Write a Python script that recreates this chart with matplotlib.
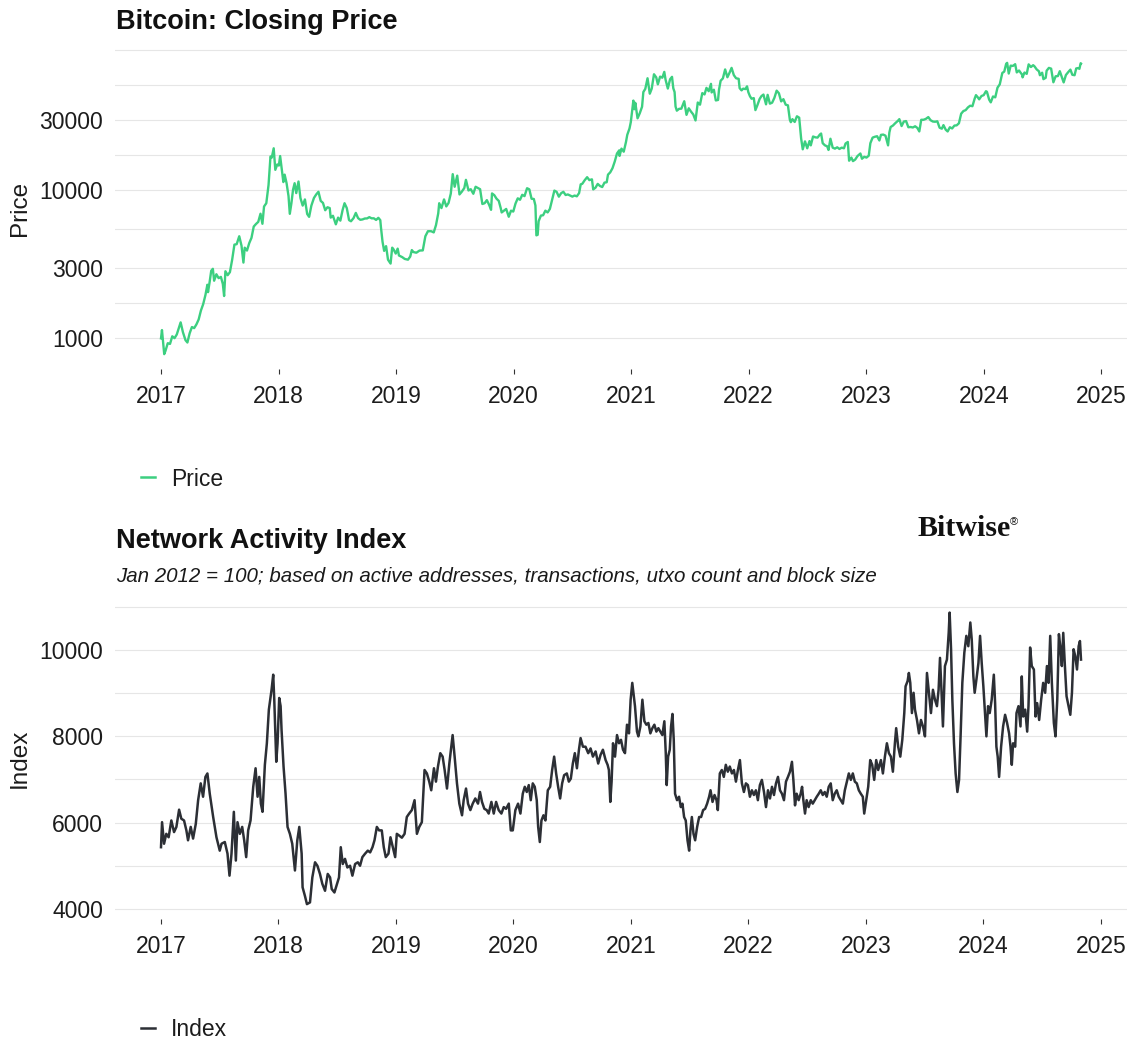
import numpy as np
import pandas as pd
import matplotlib
matplotlib.use("Agg")
import matplotlib.pyplot as plt
from matplotlib.lines import Line2D

plt.rcParams['font.family'] = ['Liberation Sans', 'DejaVu Sans']

# ---------------- data ----------------
price_dates = [
 "2017-01-01","2017-01-04","2017-01-08","2017-01-11","2017-01-15","2017-01-22","2017-01-29","2017-02-05","2017-02-12","2017-02-19",
 "2017-02-26","2017-03-03","2017-03-10","2017-03-18","2017-03-24","2017-03-31","2017-04-07","2017-04-14","2017-04-21","2017-04-28",
 "2017-05-05","2017-05-12","2017-05-19","2017-05-25","2017-05-27","2017-06-01","2017-06-06","2017-06-11","2017-06-15","2017-06-22",
 "2017-06-29","2017-07-06","2017-07-12","2017-07-16","2017-07-20","2017-07-27","2017-08-03","2017-08-10","2017-08-17","2017-08-24",
 "2017-09-01","2017-09-08","2017-09-14","2017-09-18","2017-09-25","2017-10-02","2017-10-09","2017-10-16","2017-10-23","2017-10-30",
 "2017-11-06","2017-11-12","2017-11-17","2017-11-24","2017-12-01","2017-12-07","2017-12-11","2017-12-17","2017-12-22","2017-12-28",
 "2018-01-02","2018-01-06","2018-01-10","2018-01-16","2018-01-20","2018-01-26","2018-02-01","2018-02-05","2018-02-10","2018-02-15",
 "2018-02-20","2018-02-25","2018-03-04","2018-03-10","2018-03-17","2018-03-24","2018-03-31","2018-04-06","2018-04-13","2018-04-21",
 "2018-04-28","2018-05-05","2018-05-12","2018-05-19","2018-05-26","2018-06-02","2018-06-09","2018-06-12","2018-06-19","2018-06-28",
 "2018-07-05","2018-07-12","2018-07-19","2018-07-25","2018-08-01","2018-08-08","2018-08-14","2018-08-22","2018-08-29","2018-09-05",
 "2018-09-12","2018-09-19","2018-09-26","2018-10-03","2018-10-10","2018-10-17","2018-10-24","2018-10-31","2018-11-07","2018-11-13",
 "2018-11-15","2018-11-20","2018-11-25","2018-12-01","2018-12-07","2018-12-15","2018-12-20","2018-12-24","2018-12-31",
 "2019-01-06","2019-01-10","2019-01-20","2019-01-28","2019-02-07","2019-02-14","2019-02-19","2019-02-24","2019-03-05","2019-03-15",
 "2019-03-25","2019-04-02","2019-04-10","2019-04-20","2019-04-28","2019-05-05","2019-05-12","2019-05-15","2019-05-22","2019-05-30",
 "2019-06-06","2019-06-13","2019-06-20","2019-06-26","2019-07-02","2019-07-10","2019-07-17","2019-07-24","2019-08-01","2019-08-06",
 "2019-08-14","2019-08-21","2019-08-29","2019-09-05","2019-09-12","2019-09-19","2019-09-26","2019-10-03","2019-10-10","2019-10-17",
 "2019-10-23","2019-10-26","2019-11-02","2019-11-09","2019-11-16","2019-11-22","2019-11-25","2019-12-02","2019-12-09","2019-12-17",
 "2019-12-24","2019-12-31",
 "2020-01-07","2020-01-14","2020-01-21","2020-01-28","2020-02-04","2020-02-12","2020-02-19","2020-02-26","2020-03-04","2020-03-09",
 "2020-03-12","2020-03-16","2020-03-19","2020-03-26","2020-04-02","2020-04-09","2020-04-16","2020-04-23","2020-04-30","2020-05-07",
 "2020-05-14","2020-05-21","2020-05-28","2020-06-04","2020-06-11","2020-06-18","2020-06-25","2020-07-02","2020-07-09","2020-07-16",
 "2020-07-23","2020-07-28","2020-08-02","2020-08-09","2020-08-17","2020-08-24","2020-09-01","2020-09-05","2020-09-12","2020-09-19",
 "2020-09-26","2020-10-03","2020-10-10","2020-10-17","2020-10-21","2020-10-28","2020-11-04","2020-11-11","2020-11-18","2020-11-25",
 "2020-11-26","2020-12-02","2020-12-09","2020-12-16","2020-12-20","2020-12-27","2020-12-31",
 "2021-01-03","2021-01-08","2021-01-11","2021-01-14","2021-01-21","2021-01-28","2021-02-04","2021-02-08","2021-02-14","2021-02-21",
 "2021-02-28","2021-03-06","2021-03-13","2021-03-20","2021-03-25","2021-04-01","2021-04-08","2021-04-14","2021-04-18","2021-04-25",
 "2021-05-02","2021-05-08","2021-05-12","2021-05-16","2021-05-19","2021-05-23","2021-05-30","2021-06-06","2021-06-13","2021-06-15",
 "2021-06-22","2021-06-29","2021-07-06","2021-07-13","2021-07-20","2021-07-27","2021-08-03","2021-08-10","2021-08-17","2021-08-23",
 "2021-08-30","2021-09-06","2021-09-08","2021-09-15","2021-09-21","2021-09-28","2021-10-01","2021-10-06","2021-10-13","2021-10-20",
 "2021-10-27","2021-11-03","2021-11-09","2021-11-16","2021-11-23","2021-11-28","2021-12-01","2021-12-04","2021-12-10","2021-12-15",
 "2021-12-22","2021-12-27","2021-12-31",
 "2022-01-05","2022-01-10","2022-01-17","2022-01-22","2022-01-28","2022-02-04","2022-02-10","2022-02-16","2022-02-24","2022-03-01",
 "2022-03-08","2022-03-15","2022-03-22","2022-03-29","2022-04-05","2022-04-12","2022-04-19","2022-04-26","2022-05-03","2022-05-09",
 "2022-05-12","2022-05-17","2022-05-24","2022-05-31","2022-06-07","2022-06-13","2022-06-18","2022-06-25","2022-07-02","2022-07-09",
 "2022-07-13","2022-07-20","2022-07-27","2022-08-03","2022-08-10","2022-08-14","2022-08-19","2022-08-26","2022-09-02","2022-09-06",
 "2022-09-12","2022-09-19","2022-09-26","2022-10-03","2022-10-10","2022-10-17","2022-10-24","2022-10-29","2022-11-05","2022-11-09",
 "2022-11-16","2022-11-21","2022-11-28","2022-12-05","2022-12-14","2022-12-19","2022-12-26",
 "2023-01-02","2023-01-09","2023-01-14","2023-01-21","2023-01-28","2023-02-04","2023-02-11","2023-02-16","2023-02-23","2023-03-02",
 "2023-03-10","2023-03-14","2023-03-18","2023-03-25","2023-04-01","2023-04-10","2023-04-14","2023-04-21","2023-04-28","2023-05-05",
 "2023-05-12","2023-05-19","2023-05-26","2023-06-02","2023-06-09","2023-06-15","2023-06-21","2023-06-28","2023-07-05","2023-07-13",
 "2023-07-20","2023-07-27","2023-08-03","2023-08-10","2023-08-17","2023-08-24","2023-08-29","2023-09-05","2023-09-11","2023-09-18",
 "2023-09-25","2023-10-02","2023-10-09","2023-10-16","2023-10-23","2023-10-30","2023-11-06","2023-11-13","2023-11-20","2023-11-27",
 "2023-12-04","2023-12-08","2023-12-13","2023-12-18","2023-12-25",
 "2024-01-01","2024-01-08","2024-01-11","2024-01-18","2024-01-23","2024-01-30","2024-02-06","2024-02-13","2024-02-20","2024-02-28",
 "2024-03-05","2024-03-11","2024-03-14","2024-03-19","2024-03-25","2024-04-01","2024-04-08","2024-04-13","2024-04-20","2024-04-30",
 "2024-05-01","2024-05-07","2024-05-14","2024-05-20","2024-05-27","2024-06-03","2024-06-07","2024-06-14","2024-06-21","2024-06-24",
 "2024-07-01","2024-07-05","2024-07-12","2024-07-15","2024-07-22","2024-07-29","2024-08-05","2024-08-12","2024-08-19","2024-08-25",
 "2024-08-31","2024-09-06","2024-09-13","2024-09-20","2024-09-27","2024-10-03","2024-10-10","2024-10-15","2024-10-21","2024-10-25",
 "2024-10-29","2024-10-30",
]
price_values = [
 998,1135,910,780,822,925,915,1030,1000,1060,
 1180,1280,1100,970,935,1080,1190,1170,1240,1340,
 1540,1700,1960,2300,2050,2400,2860,2950,2450,2710,
 2550,2600,2330,1930,2840,2670,2800,3400,4300,4330,
 4900,4230,3250,4100,3920,4400,4780,5700,5930,6130,
 6960,5950,7790,8200,10900,17000,16700,19300,13800,15000,
 14750,17100,14600,11400,12800,11200,9170,6950,8200,10100,
 11200,9600,11500,8900,7900,8700,6930,6630,7900,8900,
 9400,9800,8500,8240,7350,7700,7600,6550,6740,5900,
 6550,6250,7380,8200,7600,6300,6190,6500,7050,6500,
 6330,6370,6460,6470,6600,6480,6480,6320,6530,6300,
 5650,4500,3900,4200,3400,3200,4100,4000,3740,
 4040,3630,3540,3440,3400,3570,3950,3830,3790,3920,
 3930,4900,5300,5300,5200,5830,7000,8200,7600,8700,
 7800,8230,9530,12900,10600,12600,9400,9800,10400,11800,
 10000,10200,9500,10600,10400,10200,8100,8200,8600,8000,
 7400,9550,9300,8800,8500,7600,7100,7300,7500,6640,
 7300,7200,
 8160,8850,8650,9350,9160,10360,10180,8790,8760,7910,
 4970,5010,6190,6760,6800,7300,7100,7500,8650,9980,
 9790,9080,9580,9800,9320,9400,9250,9090,9240,9130,
 9600,11000,11100,11700,12300,11750,11900,10170,10440,11080,
 10730,10550,11300,11370,12800,13270,14150,15700,17800,18700,
 17150,19200,18300,21300,23800,26300,29000,
 32800,40600,35500,39200,30800,33400,36900,46400,48700,57500,
 45200,48900,61200,58300,52300,59000,58000,63500,56200,49000,
 56600,58800,49200,46400,37000,34700,35700,35800,39100,40200,
 32500,36000,34200,32700,29800,39400,38100,45600,44700,49500,
 47000,52700,46100,48100,40700,41000,48200,55300,57400,66000,
 58400,62900,67600,60400,57500,57200,57000,49300,47600,48900,
 48600,50700,46300,
 43500,41800,42200,35000,37700,41600,43600,44600,38300,44400,
 38700,39300,42400,47400,45500,40100,41500,38100,37700,30100,
 29000,30400,29100,31800,31100,22500,19000,21500,19300,21600,
 20200,23200,22900,22800,23900,24300,20900,20200,19900,18800,
 22400,19500,19200,19600,19100,19500,19300,20800,21300,15900,
 16700,15800,16200,17100,17800,16400,16900,
 16700,17200,20900,22800,23100,23300,21800,23800,23900,23500,
 20200,24700,26900,27500,28500,29700,30400,27300,29300,29500,
 26800,26900,26700,27200,26500,25100,30100,30100,30500,31400,
 29900,29300,29200,29400,26600,26200,27700,25800,25100,26800,
 26300,27500,27600,28500,33100,34500,35000,36500,37500,37200,
 41900,44200,42900,41400,43600,
 44200,47000,46600,41200,39500,43300,42700,49700,52300,62500,
 63800,72100,73100,61900,70000,69700,71600,63000,64900,60600,
 58300,62900,61600,71400,68500,70500,69300,66000,64100,60300,
 62700,56700,57900,64700,67600,66800,54000,59300,59500,64200,
 58900,53900,60500,63200,65800,60700,60300,67000,67400,66600,
 72700,72300,
]

index_years = [
 2017.000,2017.009,2017.026,2017.045,2017.065,2017.088,2017.111,2017.131,2017.154,2017.173,
 2017.196,2017.216,2017.230,2017.253,2017.273,2017.296,2017.316,2017.338,2017.358,2017.378,
 2017.395,2017.415,2017.444,2017.472,2017.500,2017.515,2017.543,2017.566,2017.583,2017.600,
 2017.620,2017.637,2017.651,2017.671,2017.691,2017.708,2017.725,2017.742,2017.762,2017.785,
 2017.805,2017.822,2017.836,2017.850,2017.864,2017.884,2017.901,2017.918,2017.941,2017.955,
 2017.964,2017.981,2017.992,2018.006,2018.018,2018.026,2018.043,2018.060,2018.077,2018.097,
 2018.117,2018.140,2018.160,2018.177,2018.197,2018.205,2018.225,2018.242,2018.268,2018.288,
 2018.311,2018.331,2018.353,2018.373,2018.396,2018.419,2018.439,2018.453,2018.476,2018.498,
 2018.515,2018.530,2018.547,2018.566,2018.586,2018.609,2018.629,2018.652,2018.675,2018.694,
 2018.714,2018.737,2018.760,2018.780,2018.800,2018.817,2018.837,2018.856,2018.879,2018.896,
 2018.913,2018.936,2018.953,2018.973,2018.993,2019.007,
 2019.027,2019.050,2019.073,2019.092,2019.112,2019.135,2019.158,2019.178,2019.198,2019.220,
 2019.243,2019.263,2019.283,2019.300,2019.323,2019.340,2019.357,2019.377,2019.397,2019.414,
 2019.434,2019.454,2019.471,2019.482,2019.499,2019.519,2019.539,2019.562,2019.576,2019.596,
 2019.613,2019.633,2019.653,2019.675,2019.698,2019.715,2019.732,2019.752,2019.772,2019.789,
 2019.812,2019.832,2019.852,2019.874,2019.897,2019.917,2019.937,2019.960,2019.977,2019.994,
 2020.016,2020.039,2020.059,2020.079,2020.096,2020.113,2020.130,2020.147,2020.164,2020.181,
 2020.198,2020.210,2020.224,2020.238,2020.255,2020.272,2020.292,2020.312,2020.329,2020.346,
 2020.363,2020.380,2020.397,2020.414,2020.431,2020.454,2020.471,2020.488,2020.505,2020.522,
 2020.540,2020.557,2020.571,2020.591,2020.613,2020.636,2020.656,2020.676,2020.699,2020.721,
 2020.741,2020.761,2020.784,2020.801,2020.812,2020.824,2020.835,2020.847,2020.864,2020.881,
 2020.898,2020.915,2020.932,2020.949,2020.966,2020.983,2020.997,2021.011,
 2021.034,2021.051,2021.063,2021.080,2021.097,2021.114,2021.131,2021.148,2021.165,2021.182,
 2021.199,2021.216,2021.233,2021.250,2021.267,2021.284,2021.296,2021.304,2021.316,2021.330,
 2021.341,2021.353,2021.364,2021.375,2021.392,2021.409,2021.424,2021.438,2021.452,2021.466,
 2021.481,2021.495,2021.506,2021.518,2021.532,2021.546,2021.563,2021.580,2021.597,2021.614,
 2021.631,2021.648,2021.665,2021.677,2021.694,2021.711,2021.728,2021.739,2021.756,2021.773,
 2021.790,2021.807,2021.824,2021.841,2021.859,2021.876,2021.893,2021.910,2021.927,2021.944,
 2021.961,2021.978,2021.995,2022.012,2022.029,2022.046,2022.063,2022.080,2022.097,2022.114,
 2022.132,2022.149,2022.166,2022.183,2022.200,2022.217,2022.234,2022.251,2022.268,2022.285,
 2022.302,2022.319,2022.336,2022.353,2022.370,2022.382,2022.396,2022.410,2022.427,2022.444,
 2022.456,2022.467,2022.481,2022.495,2022.512,2022.530,2022.547,2022.564,2022.581,2022.598,
 2022.615,2022.632,2022.649,2022.666,2022.683,2022.700,2022.717,2022.734,2022.751,2022.768,
 2022.786,2022.803,2022.820,2022.837,2022.854,2022.871,2022.888,2022.905,2022.922,2022.939,
 2022.956,2022.973,2022.985,2023.002,2023.019,2023.036,2023.053,2023.070,2023.087,2023.104,
 2023.127,2023.144,2023.161,2023.178,2023.195,2023.212,2023.229,2023.246,2023.257,2023.274,
 2023.292,2023.309,2023.326,2023.337,2023.354,2023.365,2023.377,2023.391,2023.405,2023.417,
 2023.434,2023.451,2023.468,2023.485,2023.502,2023.519,2023.536,2023.553,2023.570,2023.587,
 2023.604,2023.618,2023.630,2023.641,2023.655,2023.672,2023.689,2023.704,2023.712,2023.724,
 2023.735,2023.749,2023.763,2023.778,2023.792,2023.806,2023.820,2023.837,2023.854,2023.871,
 2023.888,2023.900,2023.914,2023.925,2023.940,2023.957,2023.971,2023.985,2023.999,2024.011,
 2024.025,2024.039,2024.053,2024.070,2024.088,2024.099,2024.110,2024.121,2024.133,2024.150,
 2024.167,2024.184,2024.201,2024.218,2024.230,2024.241,2024.252,2024.270,2024.281,2024.298,
 2024.315,2024.326,2024.338,2024.355,2024.372,2024.383,2024.397,2024.411,2024.429,2024.443,
 2024.457,2024.474,2024.491,2024.508,2024.525,2024.540,2024.554,2024.568,2024.582,2024.599,
 2024.613,2024.628,2024.642,2024.656,2024.667,2024.679,2024.693,2024.707,2024.724,2024.739,
 2024.753,2024.767,2024.781,2024.796,2024.810,2024.821,2024.830,
]
index_values = [
 5430,6010,5510,5740,5660,6050,5780,5900,6300,6090,
 6050,5820,5590,5900,5630,5970,6520,6910,6600,7060,
 7140,6670,6130,5660,5350,5510,5550,5280,4770,5280,
 6250,5120,6010,5740,5900,5590,5200,5820,6050,6830,
 7260,6600,7060,6440,6250,7340,7840,8620,9080,9430,
 8850,7410,7840,8890,8700,8150,7300,6670,5900,5740,
 5510,4890,5590,5900,5280,4500,4300,4110,4150,4730,
 5080,5000,4810,4580,4420,4810,4730,4460,4380,4580,
 4730,5430,5040,5160,4960,5000,4770,5040,5080,5000,
 5200,5280,5350,5310,5430,5590,5900,5820,5820,5430,
 5200,5280,5660,5430,5200,5740,
 5700,5650,5740,6130,6210,6290,6520,5740,5900,6010,
 7220,7140,6950,6750,7260,6950,7300,7610,7530,7220,
 6790,7370,7760,8030,7530,6910,6440,6170,6520,6790,
 6440,6290,6440,6560,6440,6710,6480,6320,6290,6210,
 6480,6210,6480,6290,6210,6360,6320,6440,5820,5820,
 6290,6440,6210,6670,6830,6710,6870,6520,6910,6830,
 6520,5900,5550,6050,6170,6050,6750,6830,7220,7530,
 7140,6830,6560,6910,7100,7140,6950,7020,7370,7610,
 7260,7690,7960,7760,7760,7610,7720,7530,7650,7370,
 7570,7690,7450,7340,7220,6480,6950,7840,7530,8030,
 7840,7920,7690,7610,8270,8070,8850,9240,
 8700,8110,8000,8230,8850,8350,8270,8310,8070,8190,
 8270,8110,8190,8110,8030,8350,7610,6870,7530,7690,
 8230,8520,7920,6670,6520,6600,6360,6440,6130,6050,
 5590,5350,5820,6130,5740,5590,5900,6130,6130,6290,
 6320,6440,6600,6750,6480,6640,6520,6290,7140,7220,
 7060,7340,7180,7300,7140,7220,6950,7220,7450,6910,
 6710,6910,6870,6600,6750,6640,6750,6520,6870,6990,
 6710,6360,6750,6560,6830,6640,6910,7060,6750,6670,
 6520,6950,7060,7180,7410,6990,6400,6670,6520,6670,
 6830,6520,6210,6520,6360,6520,6440,6520,6600,6670,
 6750,6640,6710,6600,6830,6910,6520,6670,6750,6600,
 6520,6440,6750,6950,7140,6990,7140,6950,6910,6750,
 6670,6600,6210,6520,6830,7450,7340,6990,7450,7220,
 7450,7140,7530,7840,7610,7530,7180,7840,8190,7760,
 7530,7920,8540,9160,9280,9470,9240,8540,9010,8620,
 8380,8070,8380,8230,8000,9470,9010,8540,9080,8850,
 8700,9080,9820,9160,8230,9630,9780,10400,10870,10020,
 8850,7840,7140,6710,6990,8070,9240,9940,10330,10090,
 10640,10250,9390,9010,9320,9700,10330,9700,9160,8620,
 8000,8700,8540,8850,9430,8770,7760,7530,7060,7760,
 8230,8500,8310,8070,7760,7340,7840,7760,8540,8700,
 8230,9390,8460,8620,8110,8700,10060,9630,9550,8460,
 8770,8380,8850,9240,9010,9630,9240,10330,9240,8310,
 8000,8850,10370,10020,9630,10400,9630,8930,8700,8500,
 9010,10020,9860,9550,10090,10210,9780,
]

year_ticks = [2017, 2018, 2019, 2020, 2021, 2022, 2023, 2024, 2025]
price_ticks = [1000, 3000, 10000, 30000]
index_ticks = [4000, 6000, 8000, 10000]
index_minor = [3000, 5000, 7000, 9000, 11000]

# ---------------- style ----------------
W, H = 1132, 1043
GREEN = '#3ccf80'
DARK = '#2c2f35'
GRID = '#e6e6e6'
TXT = '#1c1c1c'
TICKFS = 16.5

def dec_year(s):
    d = pd.Timestamp(s)
    a = pd.Timestamp(d.year, 1, 1)
    b = pd.Timestamp(d.year + 1, 1, 1)
    return d.year + (d - a) / (b - a)

px = np.array([dec_year(s) for s in price_dates])

fig = plt.figure(figsize=(W / 100, H / 100), dpi=100)
fig.patch.set_facecolor('white')

ax1 = fig.add_axes([115 / W, 1 - 368.7 / H, 1012 / W, 320.4 / H])
ax2 = fig.add_axes([115 / W, 1 - 918.7 / H, 1012 / W, 320.7 / H])

ax1.set_yscale('log')
ax1.plot(px, price_values, color=GREEN, lw=1.7, solid_joinstyle='round')
ax2.plot(index_years, index_values, color=DARK, lw=1.8, solid_joinstyle='round')

# ggplot-like minor breaks (midpoints in transformed space, extended)
lm = np.log10(price_ticks)
bd = lm[1] - lm[0]
ext = np.concatenate([[lm[0] - bd], lm, [lm[-1] + bd]])
mids = (ext[:-1] + ext[1:]) / 2
price_minor = list(10 ** np.concatenate([mids, [ext[0], ext[-1]]]))

for ax in (ax1, ax2):
    ax.margins(x=0.05, y=0.05)
    ax.autoscale_view()

lims = {ax: (ax.get_xlim(), ax.get_ylim()) for ax in (ax1, ax2)}

for ax in (ax1, ax2):
    for sp in ax.spines.values():
        sp.set_visible(False)
    ax.set_xticks(year_ticks)
    ax.set_xticklabels([str(y) for y in year_ticks])
    ax.tick_params(axis='x', which='major', length=3.6, width=0.8, color='#333333',
                   pad=8, labelsize=TICKFS, labelcolor=TXT)
    ax.tick_params(axis='y', which='both', length=0, pad=8.4, labelsize=TICKFS, labelcolor=TXT)
    ax.tick_params(axis='x', which='minor', length=0)
    ax.set_axisbelow(True)

ax1.set_yticks(price_ticks)
ax1.set_yticklabels([str(v) for v in price_ticks])
ax1.set_yticks(price_minor, minor=True)
ax1.yaxis.set_minor_formatter(matplotlib.ticker.NullFormatter())
ax1.xaxis.set_minor_locator(matplotlib.ticker.NullLocator())
ax1.grid(True, axis='y', which='both', color=GRID, lw=0.8)

ax2.set_yticks(index_ticks)
ax2.set_yticklabels([str(v) for v in index_ticks])
ax2.set_yticks(index_minor, minor=True)
ax2.yaxis.set_minor_formatter(matplotlib.ticker.NullFormatter())
ax2.grid(True, axis='y', which='both', color=GRID, lw=0.8)

for ax in (ax1, ax2):
    ax.set_xlim(lims[ax][0])
    ax.set_ylim(lims[ax][1])

ax1.set_ylabel('Price', fontsize=17.5, color=TXT, va='center')
ax1.yaxis.set_label_coords((20 - 115) / 1012, 0.5)
ax2.set_ylabel('Index', fontsize=17.5, color=TXT, va='center')
ax2.yaxis.set_label_coords((20 - 115) / 1012, 0.5)

# titles
fig.text(116 / W, 1 - 29 / H, 'Bitcoin: Closing Price', fontsize=19.5, weight='bold',
         color='#111111', ha='left', va='baseline')
fig.text(116 / W, 1 - 548 / H, 'Network Activity Index', fontsize=19.5, weight='bold',
         color='#111111', ha='left', va='baseline')
fig.text(116 / W, 1 - 582 / H,
         'Jan 2012 = 100; based on active addresses, transactions, utxo count and block size',
         fontsize=14.8, style='italic', color='#1a1a1a', ha='left', va='baseline')

# brand mark
bw = fig.text(917 / W, 1 - 536 / H, 'Bitwise', family=['Liberation Serif', 'DejaVu Serif'],
              fontsize=21.5, weight='bold', color='#111111', ha='left', va='baseline')
ax2.annotate('®', xy=(1.0, 0.72), xycoords=bw, fontsize=8, color='#111111',
             ha='left', va='center', annotation_clip=False)

# legends
h1 = [Line2D([0], [0], color=GREEN, lw=1.8)]
leg1 = ax1.legend(h1, ['Price'], loc='center left', bbox_to_anchor=(141 / W, 1 - 479 / H),
                  bbox_transform=fig.transFigure, frameon=False, borderpad=0, borderaxespad=0,
                  handlelength=0.6, handletextpad=0.7, fontsize=16.5)
h2 = [Line2D([0], [0], color=DARK, lw=1.8)]
leg2 = ax2.legend(h2, ['Index'], loc='center left', bbox_to_anchor=(141 / W, 1 - 1030 / H),
                  bbox_transform=fig.transFigure, frameon=False, borderpad=0, borderaxespad=0,
                  handlelength=0.6, handletextpad=0.7, fontsize=16.5)
for lg in (leg1, leg2):
    for t in lg.get_texts():
        t.set_color(TXT)

fig.savefig('out.png', dpi=100, facecolor='white')
